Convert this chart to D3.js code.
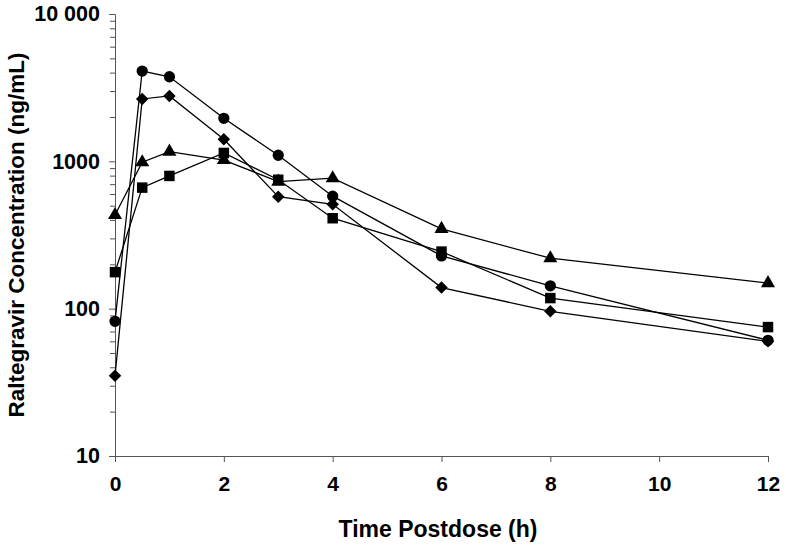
<!DOCTYPE html>
<html>
<head>
<meta charset="utf-8">
<script src="https://cdn.jsdelivr.net/npm/d3@7"></script>
<style>
  body { margin: 0; background: #fff; }
</style>
</head>
<body>
<div id="chart"></div>
<script>
// sampling times (h)
var times = [0, 0.5, 1, 2, 3, 4, 6, 8, 12];

// concentrations (ng/mL), one array per subject
var circleVals = [82, 4100, 3750, 1960, 1100, 580, 228, 143, 61];
var diamondVals = [35, 2650, 2780, 1410, 576, 511, 139, 96, 60];
var triangleVals = [432, 986, 1163, 1020, 728, 768, 348, 220, 149];
var squareVals = [177, 663, 796, 1140, 750, 411, 244, 118, 75];

var xTicks = [0, 2, 4, 6, 8, 10, 12];
var yTicks = [10, 100, 1000, 10000];
var yTickLabels = ['10', '100', '1000', '10 000'];

var series = [
    { shape: d3.symbolCircle, size: 100, rot: 0, vals: circleVals },
    { shape: d3.symbolSquare, size: 78, rot: 45, vals: diamondVals },
    { shape: d3.symbolTriangle, size: 85, rot: 0, vals: triangleVals },
    { shape: d3.symbolSquare, size: 110, rot: 0, vals: squareVals }
];

var margin = { top: 14, right: 18, bottom: 92, left: 115 };
var width = 786 - margin.left - margin.right,
    height = 548 - margin.top - margin.bottom;

var svg = d3.select('#chart').append('svg')
    .attr('width', 786)
    .attr('height', 548);

var graph = svg.append('g')
    .attr('transform', 'translate(' + margin.left + ', ' + margin.top + ')');

var xS = d3.scaleLinear().domain([0, 12]).range([0, width]);
var yS = d3.scaleLog().domain([10, 10000]).range([height, 0]);

// minor ticks on the log axis
var minor = [];
[10, 100, 1000].forEach(function (d) {
    for (var k = 2; k <= 9; k++) minor.push(d * k);
});

graph.append('g')
    .call(d3.axisLeft(yS).tickValues(minor).tickSize(5).tickFormat(''))
    .call(function (g) { g.select('.domain').remove(); });

var yAxis = graph.append('g')
    .call(d3.axisLeft(yS).tickValues(yTicks).tickSize(6).tickPadding(9)
        .tickFormat(function (d, i) { return yTickLabels[i]; }));
yAxis.selectAll('text')
    .style('font-family', 'Liberation Sans, Arial, sans-serif')
    .style('font-weight', 'bold')
    .style('font-size', '21.5px')
    .attr('fill', '#000');

var xAxis = graph.append('g')
    .attr('transform', 'translate(0, ' + height + ')')
    .call(d3.axisBottom(xS).tickValues(xTicks).tickSize(6).tickPadding(14).tickSizeOuter(0));
xAxis.selectAll('text')
    .style('font-family', 'Liberation Sans, Arial, sans-serif')
    .style('font-weight', 'bold')
    .style('font-size', '21px')
    .attr('fill', '#000');

svg.selectAll('.domain, .tick line').attr('stroke', '#555');

var line = d3.line()
    .x(function (d, i) { return xS(times[i]); })
    .y(function (d) { return yS(d); });

series.forEach(function (s) {
    graph.append('path')
        .datum(s.vals)
        .attr('fill', 'none')
        .attr('stroke', '#000')
        .attr('stroke-width', 1.3)
        .attr('d', line);
});

series.forEach(function (s) {
    graph.selectAll(null)
        .data(s.vals)
        .enter()
        .append('path')
        .attr('d', d3.symbol().type(s.shape).size(s.size))
        .attr('transform', function (d, i) {
            return 'translate(' + xS(times[i]) + ',' + yS(d) + ') rotate(' + s.rot + ')';
        })
        .attr('fill', '#000');
});

svg.append('text')
    .attr('x', 438)
    .attr('y', 537)
    .attr('text-anchor', 'middle')
    .style('font-family', 'Liberation Sans, Arial, sans-serif')
    .style('font-weight', 'bold')
    .style('font-size', '23px')
    .text('Time Postdose (h)');

svg.append('text')
    .attr('transform', 'translate(24, 235) rotate(-90)')
    .attr('text-anchor', 'middle')
    .style('font-family', 'Liberation Sans, Arial, sans-serif')
    .style('font-weight', 'bold')
    .style('font-size', '22.5px')
    .text('Raltegravir Concentration (ng/mL)');
</script>
</body>
</html>
